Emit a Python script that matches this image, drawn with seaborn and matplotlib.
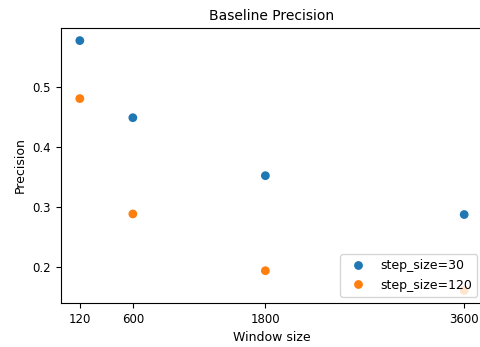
import pandas as pd
import seaborn as sns
import matplotlib.pyplot as plt

# data
window_sizes = [120, 600, 1800, 3600]
precision_step30 = [0.578, 0.449, 0.352, 0.287]
precision_step120 = [0.481, 0.288, 0.193, 0.160]
series_labels = ['step_size=30', 'step_size=120']
x_ticks = [120, 600, 1800, 3600]

df = pd.DataFrame({
    'Window size': window_sizes * 2,
    'Precision': precision_step30 + precision_step120,
    'series': [series_labels[0]] * 4 + [series_labels[1]] * 4,
})

plt.rcParams['font.family'] = ['DejaVu Sans']
plt.rcParams['font.size'] = 9

fig, ax = plt.subplots(figsize=(4.81, 3.47), dpi=100)
sns.scatterplot(data=df, x='Window size', y='Precision', hue='series',
                hue_order=series_labels, palette=['#1f77b4', '#ff7f0e'],
                s=40, linewidth=0, ax=ax)

ax.set_xticks(x_ticks)
ax.set_xticklabels([str(t) for t in x_ticks])
ax.set_yticks([0.2, 0.3, 0.4, 0.5])
ax.tick_params(labelsize=8.5)
ax.set_title('Baseline Precision', fontsize=10)
ax.set_xlabel('Window size')
ax.set_ylabel('Precision')
ax.legend(loc='lower right', bbox_to_anchor=(1.0, 0.0), title=None)

# the original is cropped on the right, so the axes run just past the edge
plt.subplots_adjust(left=0.126, right=1.005, bottom=0.127, top=0.919)
plt.savefig('out.png')
